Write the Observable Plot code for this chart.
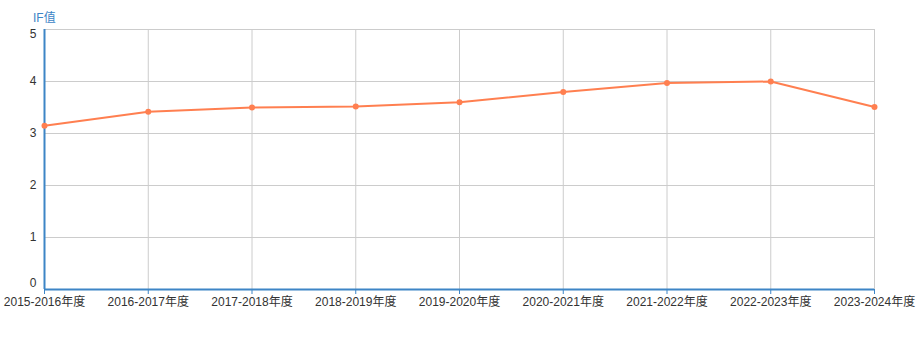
<!DOCTYPE html>
<html>
<head>
<meta charset="utf-8">
<script src="https://cdn.jsdelivr.net/npm/d3@7"></script>
<script src="https://cdn.jsdelivr.net/npm/@observablehq/plot@0.6"></script>
<style>
  html, body { margin: 0; padding: 0; background: #fff; }
  #chart { position: relative; width: 919px; height: 342px; }
  #ytitle { position: absolute; left: 33px; top: 8px; font: 12px "Liberation Sans", "Noto Sans CJK SC", sans-serif; color: #3d85c6; }
</style>
</head>
<body>
<div id="chart"><div id="ytitle">IF值</div></div>
<script>
const years = ["2015-2016年度","2016-2017年度","2017-2018年度","2018-2019年度","2019-2020年度","2020-2021年度","2021-2022年度","2022-2023年度","2023-2024年度"];
const ifValues = [3.15, 3.42, 3.50, 3.52, 3.60, 3.80, 3.97, 4.00, 3.51];
const yTicks = [0, 1, 2, 3, 4, 5];

const data = years.map((y, i) => ({year: y, value: ifValues[i]}));
const font = "Liberation Sans, Noto Sans CJK SC, sans-serif";
const axisBlue = "#3d85c6";
const lineColor = "#ff7f50";
const fmt = d => String(d);

const chart = Plot.plot({
  width: 919,
  height: 342,
  marginLeft: 44,
  marginRight: 45,
  marginTop: 29,
  marginBottom: 53,
  style: {fontFamily: font, fontSize: "12px", color: "#333", background: "transparent"},
  x: {type: "point", domain: years, padding: 0, round: false, label: null},
  y: {domain: [0, 5], label: null},
  marks: [
    Plot.gridY(yTicks, {stroke: "#ccc", strokeOpacity: 1, strokeWidth: 1}),
    Plot.gridX(years, {stroke: "#ccc", strokeOpacity: 1, strokeWidth: 1}),
    Plot.axisY(yTicks.filter(t => t > 0 && t < 5), {tickSize: 0, tickPadding: 8, tickFormat: fmt, fill: "#333", fontSize: 12, label: null}),
    Plot.axisY(yTicks.filter(t => t === 5), {tickSize: 0, tickPadding: 8, tickFormat: fmt, fill: "#333", fontSize: 12, dy: 5, label: null}),
    Plot.axisY(yTicks.filter(t => t === 0), {tickSize: 0, tickPadding: 8, tickFormat: fmt, fill: "#333", fontSize: 12, dy: -6, label: null}),
    Plot.ruleX([0], {x: () => years[0], y1: 0, y2: 5, stroke: axisBlue, strokeWidth: 2}),
    Plot.ruleY([0], {stroke: axisBlue, strokeWidth: 2}),
    Plot.axisX(years, {tickSize: 5, stroke: axisBlue, tickPadding: 3, fill: "#333", fontSize: 12, label: null}),
    Plot.line(data, {x: "year", y: "value", stroke: lineColor, strokeWidth: 2}),
    Plot.dot(data, {x: "year", y: "value", fill: lineColor, r: 3})
  ]
});
document.getElementById("chart").appendChild(chart);
chart.style.position = "absolute";
chart.style.left = "0";
chart.style.top = "0";
</script>
</body>
</html>
